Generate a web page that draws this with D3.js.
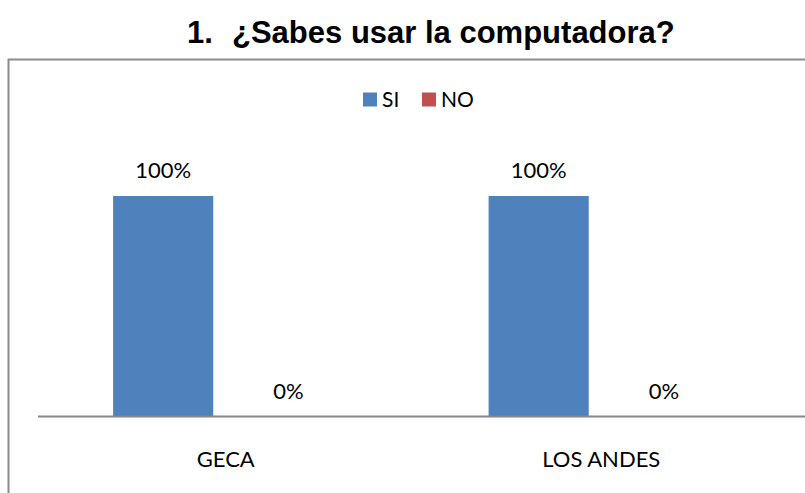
<!DOCTYPE html>
<html><head><meta charset="utf-8">
<script src="https://cdn.jsdelivr.net/npm/d3@7"></script>
<style>html,body{margin:0;padding:0;background:#fff;}svg{display:block;}</style>
</head><body>
<svg id="chart" width="805" height="493"></svg>
<script>
const categories = ["GECA", "LOS ANDES"];
const seriesNames = ["SI", "NO"];
const siValues = [1.0, 1.0];
const noValues = [0.0, 0.0];
const seriesColors = ["#4F81BD", "#C0504D"];
const titleNumber = "1.";
const titleText = "¿Sabes usar la computadora?";

const svg = d3.select("#chart");
const font = "Lato, 'Open Sans', sans-serif";

// Chart border (extends beyond visible area on right/bottom)
svg.append("rect").attr("x", 8.5).attr("y", 59.5).attr("width", 900).attr("height", 500)
  .attr("fill", "none").attr("stroke", "#8c8c8c").attr("stroke-width", 2);

// Title
svg.append("text").attr("x", 187).attr("y", 43).attr("font-family", "'Liberation Sans', Arial, sans-serif")
  .attr("font-weight", "bold").attr("font-size", 31).attr("fill", "#000").text(titleNumber);
svg.append("text").attr("x", 232).attr("y", 43).attr("font-family", "'Liberation Sans', Arial, sans-serif")
  .attr("font-weight", "bold").attr("font-size", 31).attr("fill", "#000").text(titleText);

const x0 = d3.scaleBand().domain(categories).range([38, 789]).paddingInner(0).paddingOuter(0);
const x1 = d3.scaleBand().domain(seriesNames).range([0, x0.bandwidth()]).paddingInner(0.2).paddingOuter(0.6);
const y = d3.scaleLinear().domain([0, 1]).range([416.5, 196]);
const color = d3.scaleOrdinal().domain(seriesNames).range(seriesColors);

const data = categories.map((c, i) => ({cat: c, vals: [
  {s: "SI", v: siValues[i]}, {s: "NO", v: noValues[i]}]}));

const g = svg.append("g");
const groups = g.selectAll("g.cat").data(data).join("g")
  .attr("transform", d => `translate(${x0(d.cat)},0)`);
groups.selectAll("rect").data(d => d.vals).join("rect")
  .attr("x", d => x1(d.s)).attr("width", x1.bandwidth())
  .attr("y", d => y(d.v)).attr("height", d => y(0) - y(d.v))
  .attr("fill", d => color(d.s));
groups.selectAll("text.lbl").data(d => d.vals).join("text").attr("class", "lbl")
  .attr("x", d => x1(d.s) + x1.bandwidth() / 2).attr("y", d => y(d.v) - 18)
  .attr("text-anchor", "middle").attr("font-family", font).attr("font-size", 22).attr("fill", "#000")
  .text(d => Math.round(d.v * 100) + "%");

// Axis
const xAxis = d3.axisBottom(x0).tickSize(0).tickPadding(0);
const ax = svg.append("g").attr("transform", `translate(0,${y(0)})`).call(xAxis);
ax.select(".domain").attr("stroke", "#868686").attr("stroke-width", 2).attr("d", `M38,0H805`);
ax.selectAll(".tick text").attr("font-family", font).attr("font-size", 22).attr("fill", "#000")
  .attr("dy", null).attr("y", 50);

// Legend
const legendItems = [{s: "SI", x: 363}, {s: "NO", x: 422}];
const lg = svg.append("g");
legendItems.forEach(it => {
  lg.append("rect").attr("x", it.x).attr("y", 92.5).attr("width", 14).attr("height", 14).attr("fill", color(it.s));
  lg.append("text").attr("x", it.x + 19).attr("y", 106.5).attr("font-family", font).attr("font-size", 21)
    .attr("fill", "#000").text(it.s);
});
</script>
</body></html>
